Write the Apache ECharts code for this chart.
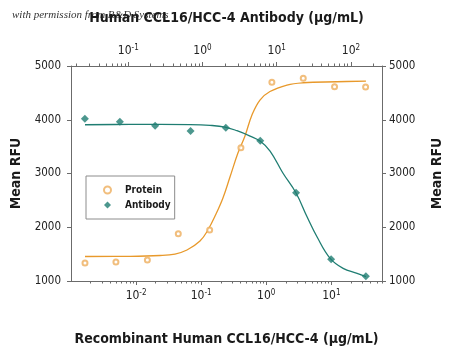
<!DOCTYPE html>
<html>
<head>
<meta charset="utf-8">
<script src="https://cdn.jsdelivr.net/npm/echarts@6/dist/echarts.min.js"></script>
<style>html,body{margin:0;padding:0;background:#fff;}#c{width:450px;height:347px;}</style>
</head>
<body>
<div id="c"></div>
<script>
// ---- data (concentrations in ug/mL, response in Mean RFU) ----
var proteinConc = [0.00164, 0.0049, 0.0149, 0.0445, 0.135, 0.408, 1.22, 3.7, 11.2, 33.6];
var proteinRFU  = [1335, 1353, 1391, 1880, 1949, 3480, 4697, 4771, 4615, 4609];
var proteinFitConc = [0.00164, 0.00805, 0.0233, 0.0396, 0.0605, 0.0959, 0.127, 0.169, 0.216, 0.277, 0.367, 0.471, 0.603, 0.80, 1.14, 2.08, 3.66, 12.2, 34];
var proteinFitRFU  = [1456, 1459, 1474, 1502, 1577, 1744, 1949, 2246, 2544, 2934, 3381, 3697, 4088, 4367, 4525, 4646, 4688, 4707, 4720];

var antibodyConc = [0.026, 0.077, 0.23, 0.69, 2.06, 6.0, 18.2, 54, 159];
var antibodyRFU  = [4020, 3964, 3889, 3791, 3852, 3610, 2643, 1404, 1087];
var antibodyFitConc = [0.0261, 0.105, 0.267, 0.679, 1.26, 2.01, 2.91, 4.37, 5.96, 8.13, 12.1, 18.2, 25.7, 35.0, 52.4, 78.4, 121, 160];
var antibodyFitRFU  = [3907, 3913, 3915, 3911, 3896, 3864, 3796, 3697, 3604, 3418, 3009, 2637, 2190, 1818, 1422, 1236, 1143, 1080];

// axis ranges (concentration) and decade labels (exponents)
var bottomRange = [0.001, 60];
var topRange = [0.0169, 262];
var bottomDecades = [-2, -1, 0, 1];
var topDecades = [-1, 0, 1, 2];
var yTicks = [1000, 2000, 3000, 4000, 5000];

var FONT = "'Liberation Sans Narrow', 'DejaVu Sans Condensed', 'Liberation Sans', sans-serif";
var AXIS_COLOR = '#6b6b6b';
var ORANGE = '#e8992b';
var ORANGE_PT = '#eeae5c';
var TEAL = '#1f7d72';

var lg = function (v) { return Math.log10(v); };
function minorTicks(range) {
  var lo = lg(range[0]), hi = lg(range[1]);
  var out = [];
  for (var n = Math.floor(lo); n <= Math.ceil(hi); n++) {
    for (var k = 2; k <= 9; k++) {
      var v = Math.log10(k) + n;
      if (v >= lo && v <= hi) out.push(v);
    }
  }
  return out;
}
function pairs(xs, ys) { return xs.map(function (x, i) { return [lg(x), ys[i]]; }); }

var richLabel = {
  b: { fontSize: 12, fontFamily: FONT, color: '#222', lineHeight: 14 },
  s: { fontSize: 8, fontFamily: FONT, color: '#222', verticalAlign: 'top', lineHeight: 14, padding: [0, 0, 6, 0] }
};
function expFmt(v) { return '{b|10}{s|' + Math.round(v) + '}'; }

function majorX(pos, range, decades, name, gap) {
  return {
    type: 'value', position: pos, min: lg(range[0]), max: lg(range[1]),
    axisLine: { show: true, onZero: false, lineStyle: { color: AXIS_COLOR, width: 1 } },
    axisTick: { show: true, length: 4, lineStyle: { color: AXIS_COLOR }, customValues: decades },
    axisLabel: { show: true, margin: 8, customValues: decades, formatter: expFmt, rich: richLabel },
    splitLine: { show: false },
    name: name, nameLocation: 'middle', nameGap: gap,
    nameTextStyle: { fontFamily: FONT, fontSize: 14, fontWeight: 'bold', color: '#1a1a1a' }
  };
}
function minorX(pos, range) {
  return {
    type: 'value', position: pos, min: lg(range[0]), max: lg(range[1]),
    axisLine: { show: false, onZero: false },
    axisTick: { show: true, length: 2.5, lineStyle: { color: AXIS_COLOR }, customValues: minorTicks(range) },
    axisLabel: { show: false },
    splitLine: { show: false }
  };
}
function yAx(pos, gap, margin) {
  return {
    type: 'value', position: pos, min: yTicks[0], max: yTicks[yTicks.length - 1], interval: 1000,
    axisLine: { show: true, onZero: false, lineStyle: { color: AXIS_COLOR, width: 1 } },
    axisTick: { show: true, length: 4, lineStyle: { color: AXIS_COLOR } },
    axisLabel: { fontFamily: FONT, fontSize: 11.5, color: '#222', margin: margin, formatter: function (v) { return String(v); } },
    splitLine: { show: false },
    name: 'Mean RFU', nameLocation: 'middle', nameRotate: 90, nameGap: gap,
    nameTextStyle: { fontFamily: FONT, fontSize: 14, fontWeight: 'bold', color: '#1a1a1a' }
  };
}

var chart = echarts.init(document.getElementById('c'), null, { renderer: 'canvas' });
chart.setOption({
  animation: false,
  backgroundColor: '#fff',
  grid: { left: 71, right: 68, top: 66, bottom: 66, containLabel: false, outerBoundsMode: 'none' },
  graphic: [{
    type: 'text', left: 12, top: 10, z: -1,
    style: { text: 'with permission from R&D Systems', font: "italic 11px 'Liberation Serif', 'DejaVu Serif', serif", fill: '#333' }
  }],
  legend: {
    orient: 'vertical', left: 86, top: 176,
    data: ['Protein', 'Antibody'],
    borderColor: '#8c8c8c', borderWidth: 1, backgroundColor: '#fff',
    padding: [8, 4, 8, 17], itemGap: 3, itemWidth: 7, itemHeight: 7,
    textStyle: { fontFamily: FONT, fontSize: 10, fontWeight: 'bold', color: '#1a1a1a', lineHeight: 12, padding: [0, 0, 0, 9] }
  },
  xAxis: [
    majorX('bottom', bottomRange, bottomDecades, 'Recombinant Human CCL16/HCC-4 (μg/mL)', 51),
    minorX('bottom', bottomRange),
    majorX('top', topRange, topDecades, 'Human CCL16/HCC-4 Antibody (μg/mL)', 41),
    minorX('top', topRange)
  ],
  yAxis: [yAx('left', 44, 10), yAx('right', 48, 7)],
  series: [
    { name: 'Protein fit', type: 'line', xAxisIndex: 0, yAxisIndex: 0, smooth: 0.4, showSymbol: false,
      data: pairs(proteinFitConc, proteinFitRFU), lineStyle: { color: ORANGE, width: 1.3 }, z: 2 },
    { name: 'Antibody fit', type: 'line', xAxisIndex: 2, yAxisIndex: 0, smooth: 0.4, showSymbol: false,
      data: pairs(antibodyFitConc, antibodyFitRFU), lineStyle: { color: TEAL, width: 1.3 }, z: 2 },
    { name: 'Protein', type: 'scatter', xAxisIndex: 0, yAxisIndex: 0, symbol: 'emptyCircle', symbolSize: 5,
      data: pairs(proteinConc, proteinRFU), itemStyle: { color: ORANGE_PT, borderColor: ORANGE_PT, borderWidth: 1 }, z: 3 },
    { name: 'Antibody', type: 'scatter', xAxisIndex: 2, yAxisIndex: 0, symbol: 'diamond', symbolSize: 8,
      data: pairs(antibodyConc, antibodyRFU), itemStyle: { color: TEAL }, z: 3 }
  ]
});
</script>
</body>
</html>
